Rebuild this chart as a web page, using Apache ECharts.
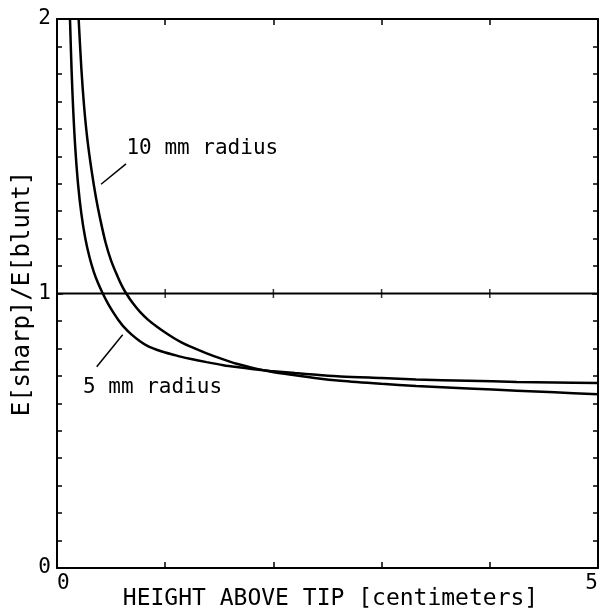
<!DOCTYPE html>
<html><head><meta charset="utf-8">
<script src="https://cdn.jsdelivr.net/npm/echarts@6/dist/echarts.min.js"></script>
<style>html,body{margin:0;padding:0;background:#fff}#c{width:603px;height:610px}</style>
</head><body><div id="c"></div><script>
// ---- data ----
const height5 = [0.12, 0.135, 0.15, 0.17, 0.195, 0.225, 0.26, 0.30, 0.34, 0.38, 0.422, 0.47, 0.52, 0.57, 0.613, 0.69, 0.767, 0.84, 0.921, 1.0, 1.075, 1.15, 1.229, 1.383, 1.537, 1.66, 1.8, 1.97, 2.2, 2.4, 2.62, 3.0, 3.32, 3.8, 4.25, 4.6, 5.0];
const ratio5  = [2.0, 1.811, 1.667, 1.524, 1.397, 1.291, 1.204, 1.133, 1.079, 1.037, 1.001, 0.964, 0.931, 0.902, 0.880, 0.850, 0.826, 0.808, 0.795, 0.785, 0.777, 0.769, 0.762, 0.750, 0.739, 0.732, 0.725, 0.718, 0.710, 0.704, 0.698, 0.692, 0.687, 0.682, 0.678, 0.676, 0.674];
const height10 = [0.2, 0.225, 0.25, 0.28, 0.32, 0.36, 0.40, 0.45, 0.50, 0.56, 0.60, 0.64, 0.70, 0.767, 0.84, 0.921, 1.0, 1.075, 1.15, 1.229, 1.383, 1.537, 1.66, 1.8, 1.97, 2.2, 2.4, 2.62, 3.0, 3.32, 3.8, 4.25, 4.6, 5.0];
const ratio10  = [2.0, 1.82, 1.684, 1.564, 1.447, 1.35, 1.27, 1.184, 1.12, 1.062, 1.028, 1.0, 0.965, 0.933, 0.905, 0.880, 0.858, 0.839, 0.822, 0.807, 0.782, 0.760, 0.744, 0.730, 0.716, 0.702, 0.691, 0.682, 0.671, 0.663, 0.654, 0.646, 0.640, 0.633];
const refLevel = 1;
const refTickX = [1, 2, 3, 4];
const xTickValues = [0, 5];
const xTickLabels = ['0', '5'];
const yTickValues = [0, 1, 2];
const yTickLabels = ['0', '1', '2'];
const xTitle = 'HEIGHT ABOVE TIP [centimeters]';
const yTitle = 'E[sharp]/E[blunt]';
const label10 = '10 mm radius';
const label5 = '5 mm radius';

const FONT = '"DejaVu Sans Mono", monospace';
const FS = 21;
const toPairs = (xs, ys) => xs.map((x, i) => [x, ys[i]]);
const fmt = (vals, labels) => v => {
  const i = vals.findIndex(t => Math.abs(t - v) < 1e-6);
  return i >= 0 ? labels[i] : '';
};
const axisLine = {show: true, onZero: false, lineStyle: {color: '#000', width: 2}};
const tick = {show: true, inside: true, length: 6, lineStyle: {color: '#000', width: 1.5}};
const minor = {show: true, splitNumber: 10, length: 5, lineStyle: {color: '#000', width: 1.5}};
const txt = {fontFamily: FONT, fontSize: FS, color: '#000'};

const chart = echarts.init(document.getElementById('c'));
chart.setOption({
  animation: false,
  backgroundColor: '#fff',
  grid: {left: 57, right: 5, top: 19, bottom: 42, containLabel: false, outerBoundsMode: 'none'},
  xAxis: [
    {type: 'value', min: 0, max: 5, interval: 1, position: 'bottom',
     axisLine, axisTick: tick, splitLine: {show: false},
     axisLabel: Object.assign({formatter: fmt(xTickValues, xTickLabels), margin: 5,
       showMinLabel: true, showMaxLabel: true, alignMinLabel: 'left', alignMaxLabel: 'right'}, txt),
     name: xTitle, nameLocation: 'middle', nameGap: 20, nameMoveOverlap: false,
     nameTextStyle: {fontFamily: FONT, fontSize: 23, color: '#000', padding: [0, 0, 0, 6]}},
    {type: 'value', min: 0, max: 5, interval: 1, position: 'top',
     axisLine, axisTick: tick, splitLine: {show: false}, axisLabel: {show: false}}
  ],
  yAxis: [
    {type: 'value', min: 0, max: 2, interval: 1, position: 'left',
     axisLine, axisTick: tick, minorTick: minor, splitLine: {show: false},
     axisLabel: Object.assign({formatter: fmt(yTickValues, yTickLabels), margin: 6}, txt),
     name: yTitle, nameLocation: 'middle', nameGap: 22, nameRotate: 90, nameMoveOverlap: false,
     nameTextStyle: {fontFamily: FONT, fontSize: 24, color: '#000'}},
    {type: 'value', min: 0, max: 2, interval: 1, position: 'right',
     axisLine, axisTick: tick, minorTick: minor, splitLine: {show: false}, axisLabel: {show: false}}
  ],
  series: [
    {type: 'line', name: '1', data: [[0, refLevel], [5, refLevel]], symbol: 'none',
     lineStyle: {color: '#000', width: 2}},
    {type: 'scatter', data: refTickX.map(x => [x, refLevel]), symbol: 'rect', symbolSize: [1.5, 9],
     itemStyle: {color: '#000'}},
    {type: 'line', name: label5, data: toPairs(height5, ratio5), symbol: 'none', smooth: 0.3,
     lineStyle: {color: '#000', width: 2.5}},
    {type: 'line', name: label10, data: toPairs(height10, ratio10), symbol: 'none', smooth: 0.3,
     lineStyle: {color: '#000', width: 2.5}}
  ]
});

// annotation anchors in data coordinates
const px = (x, y) => chart.convertToPixel({gridIndex: 0}, [x, y]);
const a10 = [px(0.638, 1.472), px(0.407, 1.398)];
const t10 = px(0.642, 1.527);
const a5 = [px(0.607, 0.850), px(0.367, 0.733)];
const t5 = px(0.240, 0.657);
chart.setOption({
  graphic: [
    {type: 'line', shape: {x1: a10[0][0], y1: a10[0][1], x2: a10[1][0], y2: a10[1][1]},
     style: {stroke: '#000', lineWidth: 1.5}},
    {type: 'line', shape: {x1: a5[0][0], y1: a5[0][1], x2: a5[1][0], y2: a5[1][1]},
     style: {stroke: '#000', lineWidth: 1.5}},
    {type: 'text', x: t10[0], y: t10[1],
     style: {text: label10, fontFamily: FONT, fontSize: FS, fill: '#000', verticalAlign: 'middle'}},
    {type: 'text', x: t5[0], y: t5[1],
     style: {text: label5, fontFamily: FONT, fontSize: FS, fill: '#000', verticalAlign: 'middle'}}
  ]
});
</script></body></html>
